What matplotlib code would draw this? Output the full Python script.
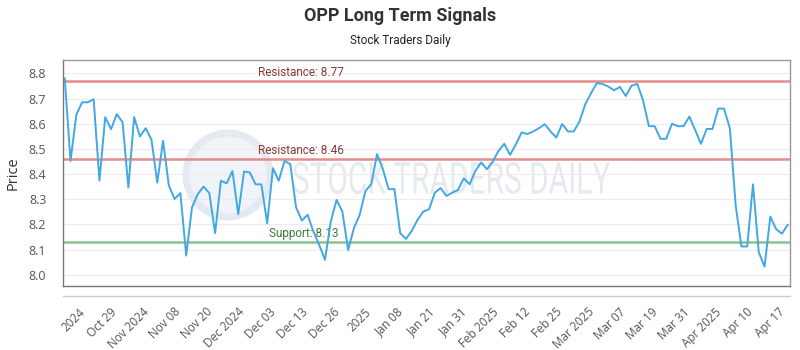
import matplotlib
matplotlib.use("Agg")
import matplotlib.pyplot as plt
import numpy as np
from matplotlib.patches import Ellipse, PathPatch
from matplotlib.textpath import TextPath
from matplotlib.font_manager import FontProperties
from matplotlib.transforms import Affine2D, IdentityTransform

prices = [8.78, 8.452, 8.635, 8.685, 8.685, 8.697, 8.374, 8.626, 8.578, 8.638,
          8.606, 8.346, 8.626, 8.549, 8.582, 8.536, 8.366, 8.532, 8.354, 8.301,
          8.324, 8.076, 8.267, 8.320, 8.350, 8.324, 8.165, 8.373, 8.363, 8.412,
          8.240, 8.410, 8.406, 8.359, 8.359, 8.204, 8.423, 8.373, 8.452, 8.439,
          8.267, 8.215, 8.238, 8.171, 8.118, 8.059, 8.211, 8.297, 8.251, 8.098,
          8.185, 8.238, 8.333, 8.359, 8.479, 8.420, 8.340, 8.340, 8.165, 8.142,
          8.174, 8.218, 8.251, 8.260, 8.326, 8.344, 8.313, 8.326, 8.337, 8.383,
          8.359, 8.412, 8.446, 8.419, 8.449, 8.492, 8.520, 8.476, 8.518, 8.565,
          8.559, 8.569, 8.582, 8.598, 8.569, 8.545, 8.599, 8.569, 8.569, 8.608,
          8.677, 8.721, 8.761, 8.758, 8.747, 8.733, 8.746, 8.710, 8.751, 8.758,
          8.692, 8.590, 8.590, 8.540, 8.540, 8.600, 8.590, 8.590, 8.628, 8.575,
          8.520, 8.579, 8.579, 8.660, 8.660, 8.582, 8.277, 8.112, 8.112, 8.359,
          8.089, 8.032, 8.231, 8.181, 8.163, 8.198]

tick_labels = ["2024", "Oct 29", "Nov 2024", "Nov 08", "Nov 20", "Dec 2024", "Dec 03",
               "Dec 13", "Dec 26", "2025", "Jan 08", "Jan 21", "Jan 31", "Feb 2025",
               "Feb 12", "Feb 25", "Mar 2025", "Mar 07", "Mar 19", "Mar 31",
               "Apr 2025", "Apr 10", "Apr 17"]

resistance_levels = [8.77, 8.46]
support_levels = [8.13]
y_ticks = [8.0, 8.1, 8.2, 8.3, 8.4, 8.5, 8.6, 8.7, 8.8]

x = np.arange(len(prices))

W, H = 800, 350
fig = plt.figure(figsize=(8, 3.5), dpi=100)
ax = fig.add_axes([63/W, 1 - 286/H, (790-63)/W, (286-60)/H])

ax.set_xlim(-0.3, len(prices) - 1 + 0.4)
ax.set_ylim(7.955, 8.853)

ax.set_yticks(y_ticks)
ax.set_yticklabels([f"{v:.1f}" for v in y_ticks])
ax.grid(axis='y', color='#ececec', linewidth=0.8)
ax.set_axisbelow(True)

# watermark (logo circle + condensed text), in pixel coordinates
wm_col = '#e4eaf0'
logo = Ellipse((228, H - 175), 84, 84, transform=IdentityTransform(), fill=True,
               facecolor='#f0f4f8', edgecolor=wm_col, lw=5, zorder=0.5)
ax.add_artist(logo)
tp = TextPath((0, 0), "STOCK TRADERS DAILY", size=100, prop=FontProperties(family='Roboto'))
ext = tp.get_extents()
x0, x1, y0, y1 = 293, 610, H - 194, H - 162
tr = Affine2D().translate(-ext.x0, -ext.y0).scale((x1 - x0) / ext.width, (y1 - y0) / ext.height).translate(x0, y0)
wm = PathPatch(tp, transform=tr, facecolor=wm_col, edgecolor='none', zorder=0.5)
ax.add_artist(wm)

for lvl in resistance_levels:
    ax.axhline(lvl, color='#e88a8a', lw=1.8, zorder=2)
    ax.text(33.5, lvl + 0.008, f"Resistance: {lvl:.2f}", color='#8b3a3a', fontsize=8.5,
            family='Roboto', ha='left', va='bottom', zorder=3)
for lvl in support_levels:
    ax.axhline(lvl, color='#8fc08f', lw=1.8, zorder=2)
    ax.text(35.3, lvl + 0.008, f"Support: {lvl:.2f}", color='#3d7a3d', fontsize=8.5,
            family='Roboto', ha='left', va='bottom', zorder=3)

ax.plot(x, prices, color='#41a8e2', lw=1.4, zorder=4)

tick_pos = np.linspace(2.4, 123.4, len(tick_labels))
ax.set_xticks(tick_pos)
ax.set_xticklabels(tick_labels, rotation=45, ha='right', rotation_mode='anchor',
                   fontsize=8.5, color='#555555', family='Open Sans')
ax.tick_params(axis='x', length=0, pad=14)
ax.tick_params(axis='y', length=0, pad=12, labelsize=9, labelcolor='#555555')
for lab in ax.get_yticklabels():
    lab.set_family('Open Sans')

for s in ax.spines.values():
    s.set_color('#9a9a9a')
    s.set_linewidth(1.0)
ax.spines['left'].set_color('#777777')
ax.spines['bottom'].set_color('#777777')

ax.plot([0, 1], [-0.044, -0.044], transform=ax.transAxes, color='#cccccc', lw=1, clip_on=False)

ax.set_ylabel("Price", fontsize=10.5, color='#333333', family='Open Sans', labelpad=6)

fig.text(0.5, 0.955, "OPP Long Term Signals", ha='center', va='center', fontsize=13,
         fontweight='bold', color='#333333', family='Roboto')
fig.text(0.5, 0.885, "Stock Traders Daily", ha='center', va='center', fontsize=8.5,
         color='#222222', family='Roboto')

fig.savefig("out.png", dpi=100)
